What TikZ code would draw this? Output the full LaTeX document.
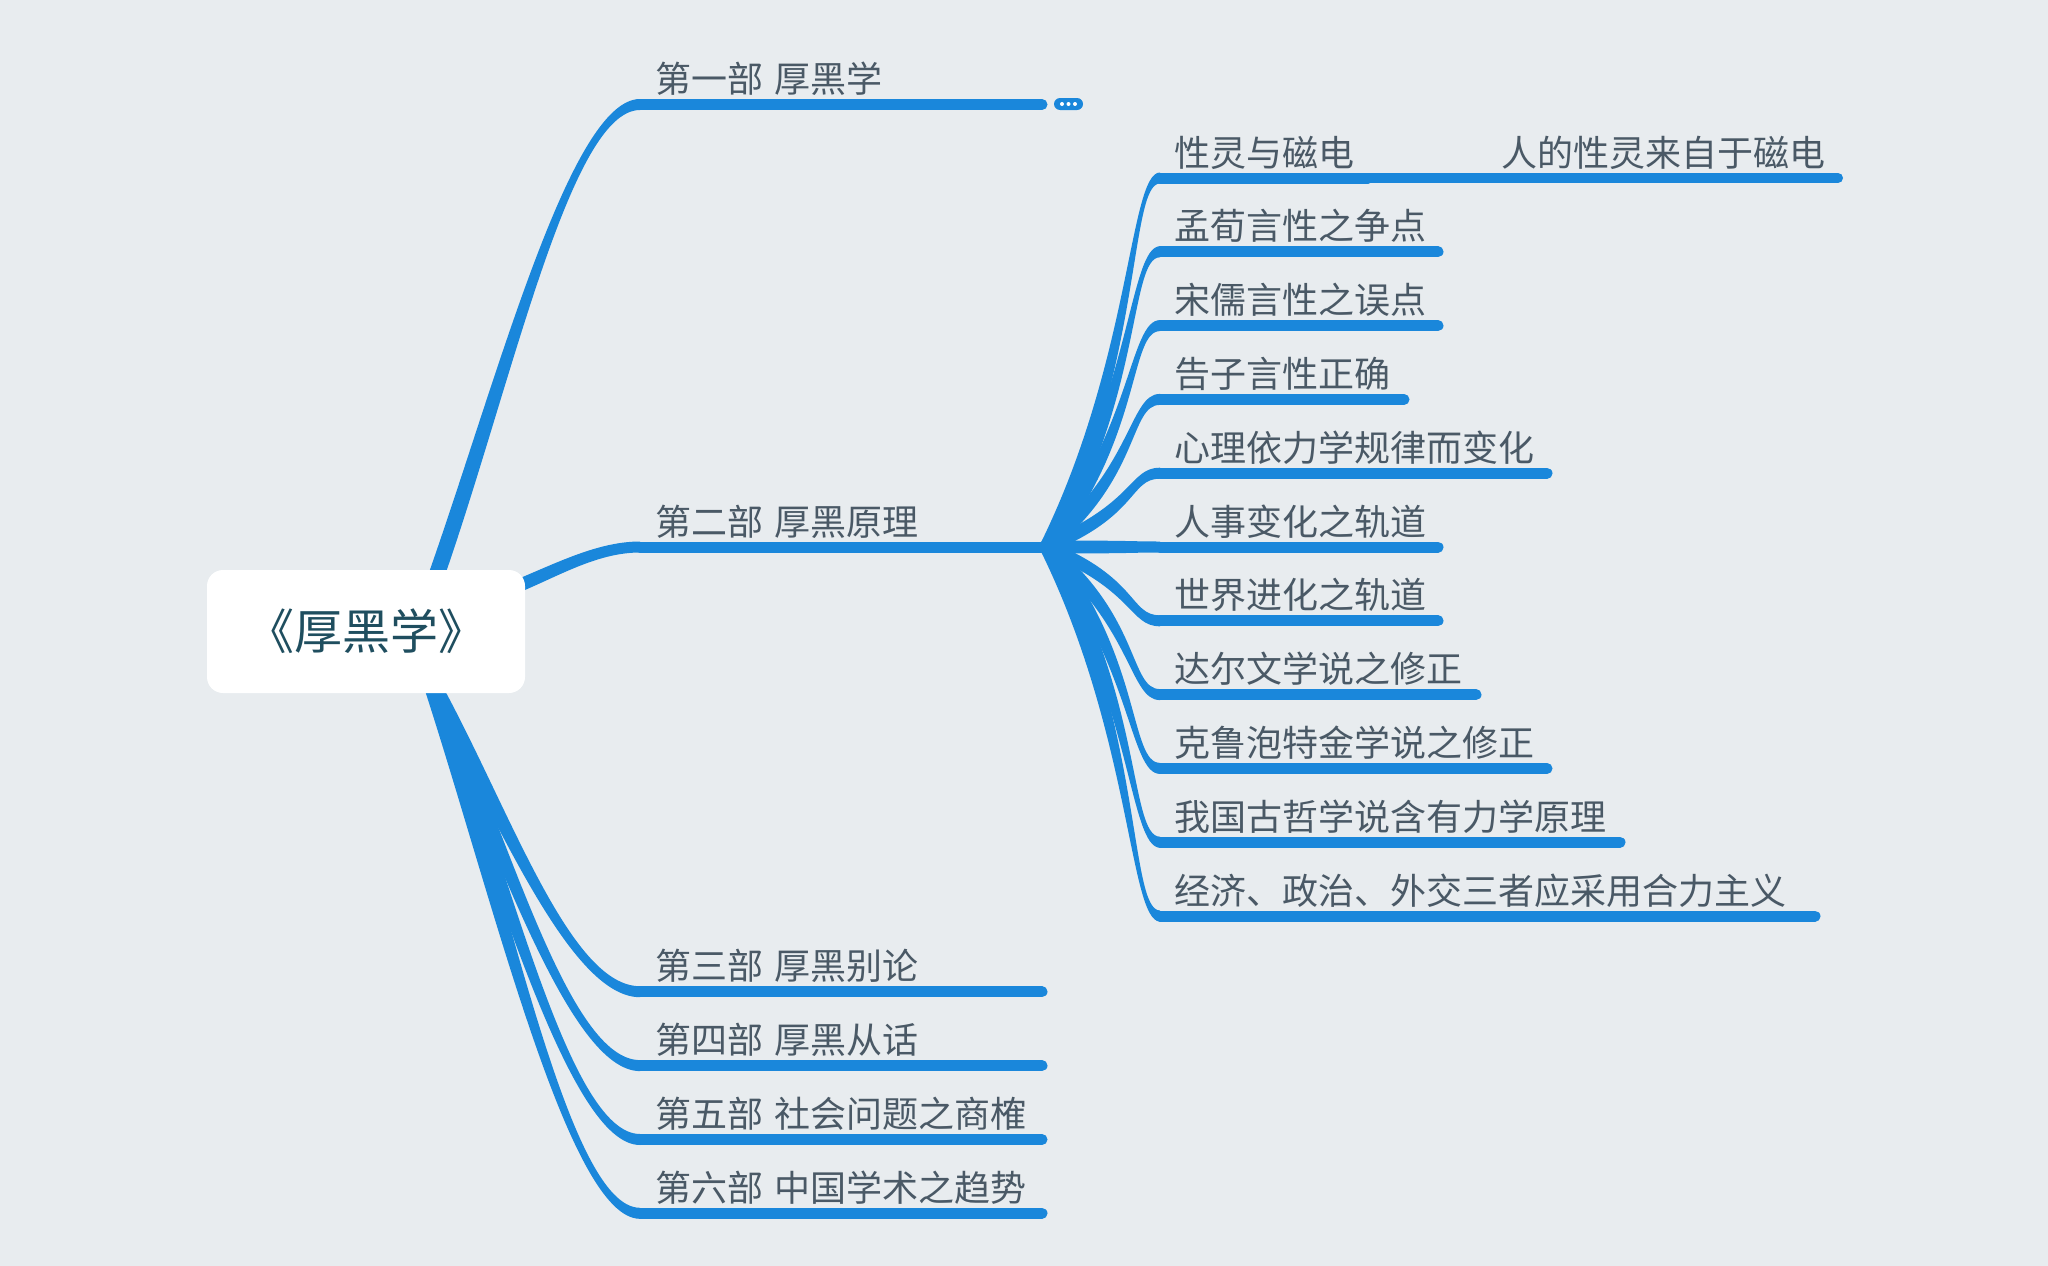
\documentclass[tikz,border=0pt]{standalone}
\usepackage{fontspec}
\setmainfont{Noto Sans CJK SC}
\usetikzlibrary{calc}
\definecolor{bgc}{HTML}{E8ECEF}
\definecolor{brc}{HTML}{1A87DB}
\definecolor{txc}{HTML}{4A5966}
\definecolor{rtc}{HTML}{1F4E5F}
% tapered curved connector: #1 start name, #2 end name, #3 half width at start,
% #4 half width at end, #5 #6 first control factors, #7 second control factor
\newcommand\tbranch[7]{%
  \fill[brc] let \p0=(#1), \p3=(#2),
     \n1={#5*(\x3-\x0)}, \n2={#6*(\y3-\y0)}, \n3={#7*(\x3-\x0)},
     \n4={veclen(\n1,\n2)}, \n5={-1*(\n2)/\n4*#3}, \n6={(\n1)/\n4*#3}
  in (\x0+\n5,\y0+\n6) .. controls (\x0+\n1+\n5,\y0+\n2+\n6) and (\x3-\n3,\y3+#4) .. (\x3,\y3+#4)
     -- (\x3,\y3-#4) .. controls (\x3-\n3,\y3-#4) and (\x0+\n1-\n5,\y0+\n2-\n6) .. (\x0-\n5,\y0-\n6) -- cycle;
}
\begin{document}
\begin{tikzpicture}[x=1pt,y=-1pt,
  lbl/.style={anchor=base west, inner sep=0pt, text=txc, font=\fontsize{36}{40}\selectfont},
  hl/.style={draw=brc, line width=11pt, line cap=round},
  rootbox/.style={fill=white, rounded corners=16pt, minimum width=318pt, minimum height=123pt,
    inner sep=0pt, text=rtc, font=\fontsize{48}{52}\selectfont},
  pill/.style={fill=brc, rounded corners=6pt, minimum width=29pt, minimum height=12pt, inner sep=0pt}]
\fill[bgc] (0,0) rectangle (2048,1266);
\useasboundingbox (0,0) rectangle (2048,1266);

% root anchor points (hidden under the root box)
\coordinate (r1) at (432,588);
\coordinate (r2) at (508,590);
\coordinate (r3) at (430,680);

% main branches
\coordinate (m1s) at (640,104.5);  \coordinate (m1e) at (1042,104.5);
\coordinate (m2s) at (640,547);  \coordinate (m2e) at (1046,547);
\tbranch{r1}{m1s}{8}{5.5}{0.34}{0.41}{0.34}
\draw[hl] (m1s) -- (m1e);
\node[lbl] (m1) at (655,92.5) {第一部\hspace{11.5pt}厚黑学};
\node[pill] (more) at (1068.5,104) {};
\foreach \d in {-6.5,0,6.5} \fill[white] ([xshift=\d pt]more.center) circle (2pt);

\tbranch{r2}{m2s}{6.5}{5.5}{0.34}{0.41}{0.34}
\draw[hl] (m2s) -- (m2e);
\node[lbl] (m2) at (655,535) {第二部\hspace{11.5pt}厚黑原理};

\foreach \k/\yy/\t in {3/991.7/第三部\hspace{11.5pt}厚黑别论, 4/1065.6/第四部\hspace{11.5pt}厚黑从话,
    5/1139.5/第五部\hspace{11.5pt}社会问题之商榷, 6/1213.3/第六部\hspace{11.5pt}中国学术之趋势}{
  \coordinate (m\k s) at (640,\yy);
  \coordinate (m\k e) at (1042,\yy);
  \tbranch{r3}{m\k s}{8}{5.5}{0.34}{0.41}{0.34}
  \draw[hl] (m\k s) -- (m\k e);
  \node[lbl] (m\k) at (655,\yy-12) {\t};
}

% sub branches of part two
\foreach \k/\e/\t in {0/1368/性灵与磁电, 1/1438/孟荀言性之争点, 2/1438/宋儒言性之误点,
    3/1404/告子言性正确, 4/1547/心理依力学规律而变化, 5/1438/人事变化之轨道,
    6/1438/世界进化之轨道, 7/1476/达尔文学说之修正, 8/1547/克鲁泡特金学说之修正,
    9/1620/我国古哲学说含有力学原理, 10/1815/经济、政治、外交三者应采用合力主义}{
  \pgfmathsetmacro\yy{178+73.8*\k}
  \coordinate (s\k s) at (1160,\yy);
  \coordinate (s\k e) at (\e,\yy);
  \tbranch{m2e}{s\k s}{6.5}{5.5}{0.8}{0.5}{0.27}
  \draw[hl] (s\k s) -- (s\k e);
  \node[lbl] (s\k) at (1174.5,\yy-12) {\t};
}

% child of 性灵与磁电
\coordinate (c0e) at (1838,178);
\draw[hl, line width=10pt] (s0e) -- (c0e);
\node[lbl] (c0) at (1501,166) {人的性灵来自于磁电};

% root
\node[rootbox] (root) at (366,631.5) {《厚黑学》};
\end{tikzpicture}
\end{document}
